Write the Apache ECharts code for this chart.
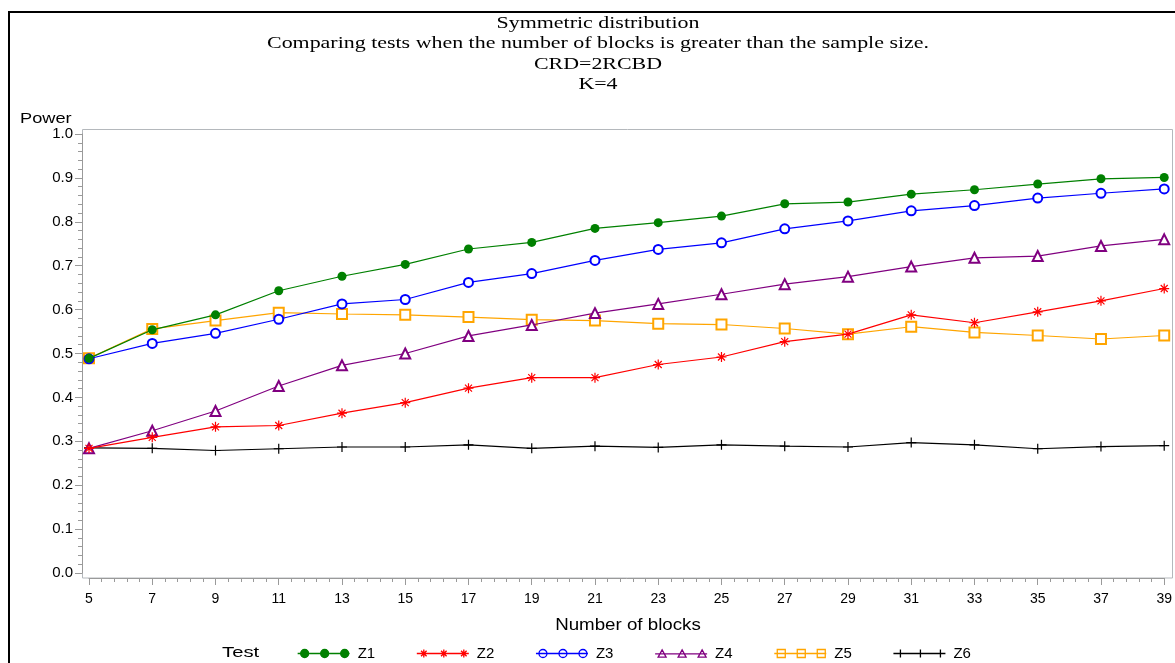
<!DOCTYPE html>
<html>
<head>
<meta charset="utf-8">
<script src="https://cdn.jsdelivr.net/npm/echarts@6/dist/echarts.min.js"></script>
<style>
html,body{margin:0;padding:0;background:#fff;}
#chart{width:1175px;height:663px;}
</style>
</head>
<body>
<div id="chart"></div>
<script>
// ---- data ----
const blocks = [5,7,9,11,13,15,17,19,21,23,25,27,29,31,33,35,37,39];
const Z1 = [0.489,0.554,0.588,0.643,0.676,0.703,0.738,0.753,0.785,0.798,0.813,0.841,0.845,0.863,0.873,0.886,0.898,0.901];
const Z2 = [0.284,0.309,0.333,0.336,0.364,0.388,0.421,0.445,0.445,0.475,0.492,0.527,0.544,0.588,0.570,0.595,0.620,0.648];
const Z3 = [0.488,0.523,0.546,0.578,0.613,0.623,0.662,0.682,0.712,0.737,0.752,0.784,0.802,0.825,0.837,0.854,0.865,0.875];
const Z4 = [0.284,0.324,0.369,0.426,0.473,0.500,0.540,0.565,0.592,0.613,0.635,0.658,0.675,0.698,0.718,0.722,0.745,0.760];
const Z5 = [0.489,0.556,0.575,0.593,0.590,0.588,0.583,0.577,0.575,0.568,0.566,0.557,0.544,0.561,0.548,0.541,0.533,0.541];
const Z6 = [0.285,0.284,0.279,0.283,0.287,0.287,0.292,0.284,0.289,0.286,0.292,0.289,0.287,0.297,0.292,0.283,0.288,0.290];
const seriesNames = ['Z1','Z2','Z3','Z4','Z5','Z6'];
const titleLines = ['Symmetric distribution','Comparing tests when the number of blocks is greater than the sample size.','CRD=2RCBD','K=4'];
const xName = 'Number of blocks';
const yName = 'Power';
const legendTitle = 'Test';

// ---- styling ----
const colors = ['#008000','#ff0000','#0000ff','#800080','#ffa500','#000000'];
const ASTER = 'path://M0,-5L0,5M-5,0L5,0M-3.5,-3.5L3.5,3.5M-3.5,3.5L3.5,-3.5';
const PLUS = 'path://M0,-5L0,5M-5,0L5,0';
const symbolDefs = [
  {symbol:'circle', size:9, itemStyle:{color:colors[0], borderWidth:0}},
  {symbol:ASTER, size:10, itemStyle:{color:colors[1], borderColor:colors[1], borderWidth:1.2}},
  {symbol:'emptyCircle', size:9, itemStyle:{color:colors[2], borderColor:colors[2], borderWidth:1.2}},
  {symbol:'emptyTriangle', size:10, itemStyle:{color:colors[3], borderColor:colors[3], borderWidth:1.2}},
  {symbol:'emptyRect', size:10, itemStyle:{color:colors[4], borderColor:colors[4], borderWidth:1.2}},
  {symbol:PLUS, size:10, itemStyle:{color:colors[5], borderColor:colors[5], borderWidth:1.2}}
];

// legend icons: a line with three markers (52 x 10 box)
function circ(cx,cy,r){return 'M'+(cx-r)+','+cy+'A'+r+','+r+',0,1,0,'+(cx+r)+','+cy+'A'+r+','+r+',0,1,0,'+(cx-r)+','+cy+'Z';}
function tri(cx,cy,r){return 'M'+cx+','+(cy-r)+'L'+(cx+r)+','+(cy+r*0.8)+'L'+(cx-r)+','+(cy+r*0.8)+'Z';}
function sq(cx,cy,r){return 'M'+(cx-r)+','+(cy-r)+'L'+(cx+r)+','+(cy-r)+'L'+(cx+r)+','+(cy+r)+'L'+(cx-r)+','+(cy+r)+'Z';}
function ast(cx,cy,r){const d=r*0.7;return 'M'+cx+','+(cy-r)+'L'+cx+','+(cy+r)+'M'+(cx-r)+','+cy+'L'+(cx+r)+','+cy+'M'+(cx-d)+','+(cy-d)+'L'+(cx+d)+','+(cy+d)+'M'+(cx-d)+','+(cy+d)+'L'+(cx+d)+','+(cy-d);}
function pls(cx,cy,r){return 'M'+cx+','+(cy-r)+'L'+cx+','+(cy+r)+'M'+(cx-r)+','+cy+'L'+(cx+r)+','+cy;}
const mk = [circ, ast, circ, tri, sq, pls];
const legendData = seriesNames.map(function(n,i){
  const cy=5, r=4, xs=[7,27,47];
  let p = 'M0,5L52,5';
  xs.forEach(function(x){ p += mk[i](x,cy,r); });
  const filled = (i===0);
  return {
    name:n,
    icon:'path://'+p,
    itemStyle:{color: filled ? colors[i] : 'rgba(0,0,0,0)', borderColor: colors[i], borderWidth: 1.3}
  };
});

const series = seriesNames.map(function(n,i){
  const vals = [Z1,Z2,Z3,Z4,Z5,Z6][i];
  return {
    name:n, type:'line',
    data: blocks.map(function(b,j){return [b, vals[j]];}),
    symbol: symbolDefs[i].symbol,
    symbolSize: symbolDefs[i].size,
    itemStyle: symbolDefs[i].itemStyle,
    lineStyle:{color:colors[i], width:1.2},
    emphasis:{disabled:true},
    z: 10-i
  };
});

const axisGray = '#9a9a9a';
const chart = echarts.init(document.getElementById('chart'), null, {renderer:'canvas'});
chart.setOption({
  animation:false,
  backgroundColor:'#ffffff',
  grid:{left:89, right:5, top:134, bottom:90, containLabel:false},
  xAxis:{
    type:'value', min:5, max:39, interval:2, offset:5,
    axisLine:{show:true, onZero:false, lineStyle:{color:axisGray, width:1}},
    axisTick:{show:true, inside:false, length:7, lineStyle:{color:axisGray}},
    minorTick:{show:true, splitNumber:5, length:4, lineStyle:{color:axisGray}},
    axisLabel:{fontFamily:'Liberation Sans', fontSize:14, color:'#000', margin:14},
    splitLine:{show:false}
  },
  yAxis:{
    type:'value', min:0, max:1, interval:0.1, offset:7,
    axisLine:{show:true, onZero:false, lineStyle:{color:axisGray, width:1}},
    axisTick:{show:true, inside:false, length:7, lineStyle:{color:axisGray}},
    minorTick:{show:true, splitNumber:5, length:4, lineStyle:{color:axisGray}},
    axisLabel:{fontFamily:'Liberation Sans', fontSize:15, color:'#000', margin:9,
      formatter:function(v){return v.toFixed(1);}},
    splitLine:{show:false}
  },
  legend:{
    data:legendData, left:297, top:646, padding:0, itemWidth:52, itemHeight:10, itemGap:41,
    selectedMode:false, symbolKeepAspect:true,
    textStyle:{fontFamily:'Liberation Sans', fontSize:15, color:'#000', padding:[0,0,0,3]}
  },
  graphic:[
    {type:'rect', shape:{x:9, y:12, width:1200, height:700}, style:{fill:'none', stroke:'#000', lineWidth:2}, silent:true, z:-1},
    {type:'rect', shape:{x:82.5, y:129.5, width:1090, height:448.5}, style:{fill:'none', stroke:'#b4b8bc', lineWidth:1}, silent:true, z:-1},
    {type:'text', x:598, y:13, scaleX:1.29, style:{text:titleLines.join('\n'), font:'17px "Liberation Serif"', fill:'#000', align:'center', verticalAlign:'top', lineHeight:20.5}, silent:true},
    {type:'text', x:20, y:119, scaleX:1.3, style:{text:yName, font:'14px "Liberation Sans"', fill:'#000', align:'left', verticalAlign:'middle'}, silent:true},
    {type:'text', x:628, y:626, scaleX:1.17, style:{text:xName, font:'16px "Liberation Sans"', fill:'#000', align:'center', verticalAlign:'middle'}, silent:true},
    {type:'text', x:222, y:653, scaleX:1.35, style:{text:legendTitle, font:'15px "Liberation Sans"', fill:'#000', align:'left', verticalAlign:'middle'}, silent:true}
  ],
  series:series
});
</script>
</body>
</html>
